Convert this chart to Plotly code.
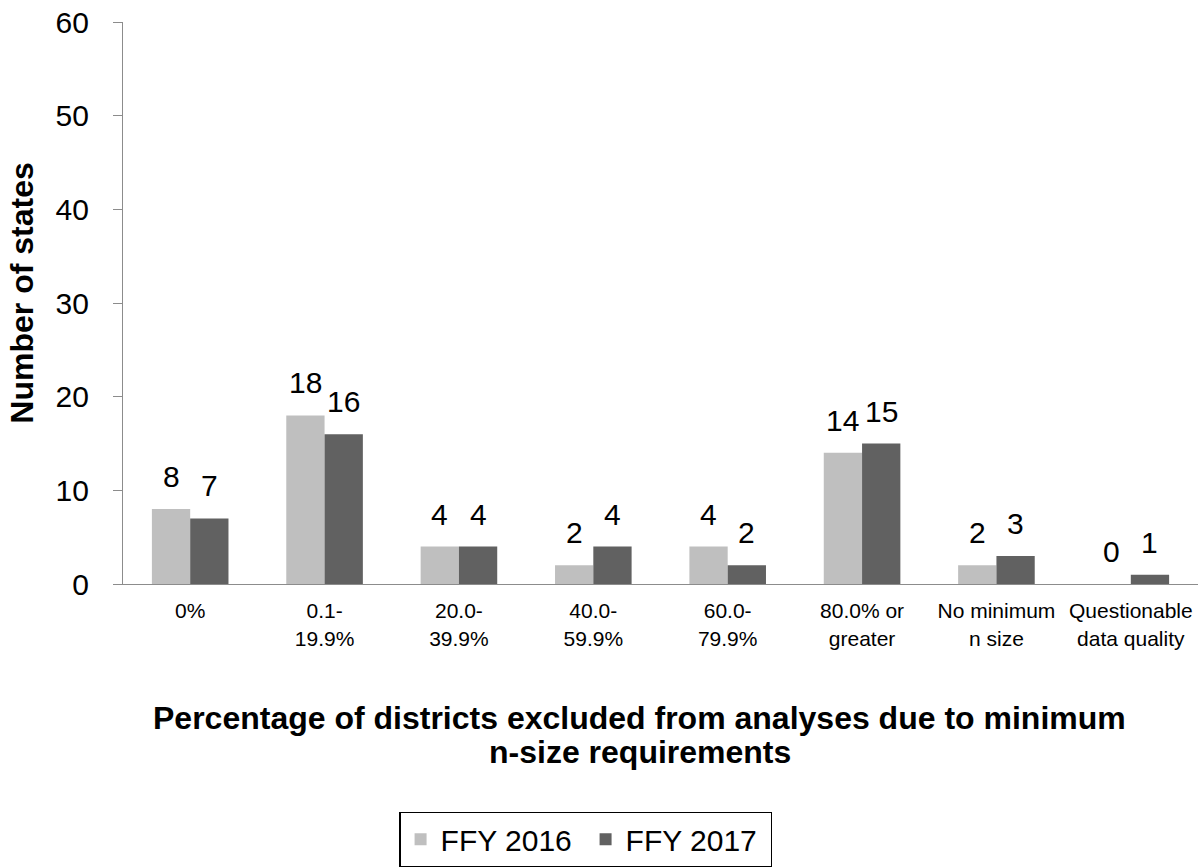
import plotly.graph_objects as go

categories = [
    "0%",
    "0.1-<br>19.9%",
    "20.0-<br>39.9%",
    "40.0-<br>59.9%",
    "60.0-<br>79.9%",
    "80.0% or<br>greater",
    "No minimum<br>n size",
    "Questionable<br>data quality",
]
ffy_2016 = [8, 18, 4, 2, 4, 14, 2, 0]
ffy_2017 = [7, 16, 4, 4, 2, 15, 3, 1]
y_ticks = [0, 10, 20, 30, 40, 50, 60]

FONT = "Liberation Sans, Arial, sans-serif"
BAR_GAP = 0.43
HALF = (1 - BAR_GAP) / 4  # offset of each bar centre from the category centre

fig = go.Figure()
fig.add_trace(go.Bar(
    name="FFY 2016", x=categories, y=ffy_2016,
    marker=dict(color="#BFBFBF", line=dict(width=0)),
))
fig.add_trace(go.Bar(
    name="FFY 2017", x=categories, y=ffy_2017,
    marker=dict(color="#616161", line=dict(width=0)),
))

# value labels sitting above each bar
annotations = []
for series, shift in ((ffy_2016, -HALF), (ffy_2017, HALF)):
    for i, v in enumerate(series):
        annotations.append(dict(
            x=i + shift, y=v, xref="x", yref="y", text=str(v),
            showarrow=False, xanchor="center", yanchor="bottom", yshift=14,
            font=dict(size=30, color="black", family=FONT),
        ))

# axis titles
annotations += [
    dict(text="<b>Percentage of districts excluded from analyses due to minimum</b>",
         x=0.4806, y=-0.2383, xref="paper", yref="paper",
         xanchor="center", yanchor="middle", showarrow=False,
         font=dict(size=32, color="black", family=FONT)),
    dict(text="<b>n-size requirements</b>",
         x=0.4806, y=-0.2988, xref="paper", yref="paper",
         xanchor="center", yanchor="middle", showarrow=False,
         font=dict(size=32, color="black", family=FONT)),
    dict(text="<b>Number of states</b>", textangle=-90,
         x=-0.0935, y=0.5175, xref="paper", yref="paper",
         xanchor="center", yanchor="middle", showarrow=False,
         font=dict(size=32, color="black", family=FONT)),
]

fig.update_layout(
    width=1203, height=867,
    margin=dict(l=123, r=5, t=22, b=283),
    paper_bgcolor="white", plot_bgcolor="white",
    font=dict(family=FONT, color="black"),
    barmode="group", bargap=BAR_GAP, bargroupgap=0,
    showlegend=True,
    legend=dict(
        orientation="h", x=0.257, xanchor="left",
        yref="container", y=0.0, yanchor="bottom",
        font=dict(size=30, color="black", family=FONT),
        bordercolor="black", borderwidth=1.3,
        traceorder="normal", entrywidth=140, entrywidthmode="pixels",
    ),
    annotations=annotations,
)

fig.update_xaxes(
    showline=True, linecolor="#8C8C8C", linewidth=1.3,
    ticks="", showgrid=False, ticklabelstandoff=8,
    tickfont=dict(size=21, color="black", family=FONT),
)
fig.update_yaxes(
    range=[0, 60], tickvals=y_ticks,
    showline=True, linecolor="#8C8C8C", linewidth=1.3,
    ticks="outside", ticklen=9, tickcolor="#8C8C8C", tickwidth=1.3,
    ticklabelstandoff=18,
    showgrid=False, zeroline=False,
    tickfont=dict(size=30, color="black", family=FONT),
)

fig.write_html("out.html")
